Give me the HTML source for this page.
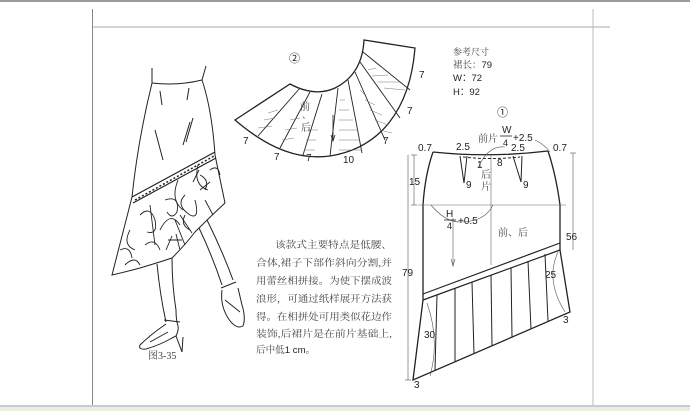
<!DOCTYPE html>
<html><head><meta charset="utf-8"><style>
html,body{margin:0;padding:0;background:#fff;}
svg{display:block;}
text{font-family:"Liberation Sans","Noto Sans CJK SC",sans-serif;fill:#222;}
.cj{font-family:"Liberation Serif","Noto Serif CJK SC",serif;fill:#444;}
</style></head><body>
<svg width="690" height="411" viewBox="0 0 690 411" xmlns="http://www.w3.org/2000/svg">
<rect width="690" height="411" fill="#fff"/>
<rect x="0" y="0" width="690" height="2" fill="#9a9a9a"/>
<line x1="92" y1="27" x2="610" y2="27" stroke="#bbb" stroke-width="1.2"/>
<line x1="92.5" y1="9" x2="92.5" y2="406" stroke="#888" stroke-width="1"/>
<line x1="593" y1="9" x2="593" y2="408" stroke="#bbb" stroke-width="1"/>
<rect x="0" y="405" width="690" height="2" fill="#c8c8e0"/>
<rect x="0" y="407" width="690" height="4" fill="#e8f0dc"/>

<!-- figure sketch -->
<g fill="none" stroke="#222" stroke-width="1">
<path d="M152,83 L152,68 M202,80 L206,66"/>
<path d="M152,83 Q178,86 202,80"/>
<path d="M152,83 Q138,140 132,197 L112,275 Q125,272 140,268 Q160,262 172,258 Q185,245 195,232 Q212,215 225,203 L215,155 Q212,110 202,80"/>
<path d="M132,197 L215,152 M133,203 L216,158" stroke-width="1.2"/>
<path d="M135,200 L214,156" stroke-dasharray="2,2" stroke-width="1.5"/>
<path d="M160,91 L162,105 M189,88 L187,100 M155,130 L163,160 M190,122 L183,145 M193,118 L186,142"/>
<g stroke-width="0.9">
<path d="M140,215 q10,-10 15,5 q3,15 -8,12 M160,230 q10,-20 20,-5 M185,195 q-10,10 5,20 q10,5 5,-15 M200,175 q10,5 5,15 M145,245 q10,-8 15,5 M175,220 l10,25 M180,215 l12,18 M205,200 l8,15 M120,250 q10,-5 12,8 M150,205 l5,40 M178,180 q-8,20 5,30 M198,165 q-5,20 10,25"/>
<path d="M130,230 q-8,15 5,20 M165,200 q15,-5 12,12 q-5,8 -10,0 M210,170 q8,-6 10,5 M190,230 q-10,-5 -5,-15 M125,265 q10,-10 15,0 M172,236 l-6,14 M176,234 l4,16 M168,240 l14,0 M193,182 l6,-12 M200,190 l10,-8"/>
</g>
<!-- legs -->
<path d="M157,264 Q160,295 166,322 M172,258 Q172,285 176,310 Q176,320 178,326"/>
<path d="M164,320 L180,322"/>
<path d="M166,324 Q150,335 140,345 Q138,350 146,349 Q160,345 172,338 L176,336 Q179,330 178,326"/>
<path d="M176,336 L182,352 L183,337"/>
<path d="M150,342 L168,332"/>
<path d="M199,228 Q212,255 222,285 M207,220 Q222,250 233,280"/>
<path d="M221,288 L236,282"/>
<path d="M222,290 Q220,305 228,318 Q236,330 243,326 Q246,318 242,305 L238,288"/>
<path d="M225,300 L240,312"/>
</g>
<text x="148" y="359" font-size="10" class="cj">图3-35</text>

<!-- fan piece -->
<g fill="none" stroke="#222">
<path d="M235,120 L290,84 C305,92 320,95 335,88 C355,78 363,60 364,40 L415,48 C410,110 380,148 330,156 C300,160 270,150 235,120 Z" stroke-width="1.3"/>
<g stroke-width="0.9">
<path d="M300,88 L258,136 M310,92 L280,148 M322,94 L303,155 M338,88 L330,156 M348,80 L362,153 M355,72 L385,140 M360,62 L400,118 M363,52 L410,90"/>
</g>
<g stroke="#777" stroke-width="0.5">
<path d="M264,120 L275,118 M258,128 L272,126 M268,113 L278,110 M290,120 L300,118 M285,130 L297,128 M282,140 L294,138 M308,130 L318,130 M306,140 L316,140 M304,150 L315,150 M340,100 L345,100 M339,110 L349,110 M339,120 L353,120 M339,130 L357,130 M339,140 L360,140 M339,150 L362,150 M360,90 L365,95 M365,100 L375,105 M370,110 L382,115 M375,120 L388,125 M380,130 L392,133 M368,70 L376,68 M372,76 L388,75 M378,82 L400,82 M384,88 L405,90"/>
</g>
<line x1="333" y1="115" x2="333" y2="140" stroke-width="0.8"/>
<path d="M331,135 L333,141 L335,135" stroke-width="0.8"/>
</g>
<text x="289" y="62" font-size="11">②</text>
<text x="300" y="110" font-size="10" class="cj">前</text>
<text x="302" y="118" font-size="9" class="cj">、</text>
<text x="301" y="131" font-size="10" class="cj">后</text>
<g font-size="10">
<text x="243" y="144">7</text><text x="274" y="160">7</text><text x="306" y="161">7</text>
<text x="343" y="163">10</text><text x="383" y="144">7</text><text x="407" y="114">7</text><text x="419" y="78">7</text>
</g>

<!-- reference sizes -->
<text x="453" y="55" font-size="9" class="cj">参考尺寸</text>
<text x="453" y="68" font-size="9.5"><tspan class="cj">裙长：</tspan>79</text>
<text x="453" y="81" font-size="9.5">W：72</text>
<text x="453" y="95" font-size="9.5">H：92</text>
<text x="497" y="116" font-size="11">①</text>

<!-- paragraph -->
<g font-size="9.6" class="cj">
<text x="275" y="248" textLength="117" lengthAdjust="spacingAndGlyphs" class="cj">该款式主要特点是低腰、</text>
<text x="256" y="266" textLength="136" lengthAdjust="spacingAndGlyphs" class="cj">合体,裙子下部作斜向分割,并</text>
<text x="256" y="284" textLength="136" lengthAdjust="spacingAndGlyphs" class="cj">用蕾丝相拼接。为使下摆成波</text>
<text x="256" y="302" textLength="136" lengthAdjust="spacingAndGlyphs" class="cj">浪形，可通过纸样展开方法获</text>
<text x="256" y="320" textLength="136" lengthAdjust="spacingAndGlyphs" class="cj">得。在相拼处可用类似花边作</text>
<text x="256" y="337" textLength="136" lengthAdjust="spacingAndGlyphs" class="cj">装饰,后裙片是在前片基础上,</text>
<text x="256" y="353" class="cj">后中低<tspan font-family="Liberation Sans" fill="#222">1 cm</tspan>。</text>
</g>

<!-- main pattern -->
<g fill="none" stroke="#222">
<path d="M433,152 Q490,158 548,151" stroke-width="1.3"/>
<path d="M433,152 Q425,175 423,205 L423,300 L413,380 L570,312 L560,250 L560,205 Q556,175 548,151" stroke-width="1.3"/>
<path d="M423,294 L560,243 M423,300 L560,250" stroke-width="1.2"/>
<line x1="418" y1="205" x2="566" y2="205" stroke-width="0.6" stroke="#666"/>
<line x1="491" y1="155" x2="491" y2="265" stroke-width="0.6" stroke="#666"/>
<path d="M460,156 L464,183 L467,156 M513,156 L521,182 L522,156" stroke-width="1"/>
<path d="M463,157 Q490,160 520,157" stroke-dasharray="3,2" stroke-width="1"/>
<g stroke-width="1">
<path d="M437,295 L435,370 M455,288 L455,362 M472,282 L474,354 M491,275 L492,346 M511,268 L512,337 M528,261 L531,329 M545,254 L548,321"/>
</g>
<g stroke-width="0.6" stroke="#555">
<path d="M427,303 Q440,340 430,376 M558,252 Q545,280 565,312"/>
<path d="M431,205 Q445,222 460,222 Q485,222 493,205"/>
<path d="M478,168 Q488,145 505,147 M535,140 Q545,145 550,152"/>
<line x1="453" y1="218" x2="453" y2="265"/>
<path d="M451,259 L453,266 L455,259"/>
<line x1="414" y1="155" x2="414" y2="205"/><line x1="411" y1="155" x2="417" y2="155"/><line x1="411" y1="205" x2="417" y2="205"/>
<line x1="408" y1="155" x2="408" y2="380"/><line x1="405" y1="380" x2="411" y2="380"/>
<line x1="573" y1="153" x2="573" y2="250"/><line x1="570" y1="153" x2="576" y2="153"/>
</g>
</g>
<g font-size="10">
<text x="418" y="151">0.7</text>
<text x="553" y="151">0.7</text>
<text x="456" y="150">2.5</text>
<text x="511" y="151">2.5</text>
<text x="478" y="142" class="cj" font-size="10">前片</text>
<text x="502" y="133" font-size="10">W</text>
<line x1="500" y1="136" x2="512" y2="136" stroke="#222" stroke-width="0.8"/>
<text x="503" y="146" font-size="9">4</text>
<text x="513" y="141">+2.5</text>
<text x="477" y="168">1</text>
<text x="497" y="166">8</text>
<text x="481" y="178" class="cj" font-size="10">后</text>
<text x="481" y="190" class="cj" font-size="10">片</text>
<text x="466" y="188">9</text>
<text x="523" y="188">9</text>
<text x="409" y="185">15</text>
<text x="446" y="217">H</text>
<line x1="444" y1="220" x2="456" y2="220" stroke="#222" stroke-width="0.8"/>
<text x="447" y="229" font-size="9">4</text>
<text x="458" y="224">+0.5</text>
<text x="498" y="236" class="cj" font-size="10">前、后</text>
<text x="566" y="240">56</text>
<text x="402" y="276">79</text>
<text x="545" y="278">25</text>
<text x="424" y="338">30</text>
<text x="563" y="323">3</text>
<text x="414" y="388">3</text>
</g>
</svg>
</body></html>
